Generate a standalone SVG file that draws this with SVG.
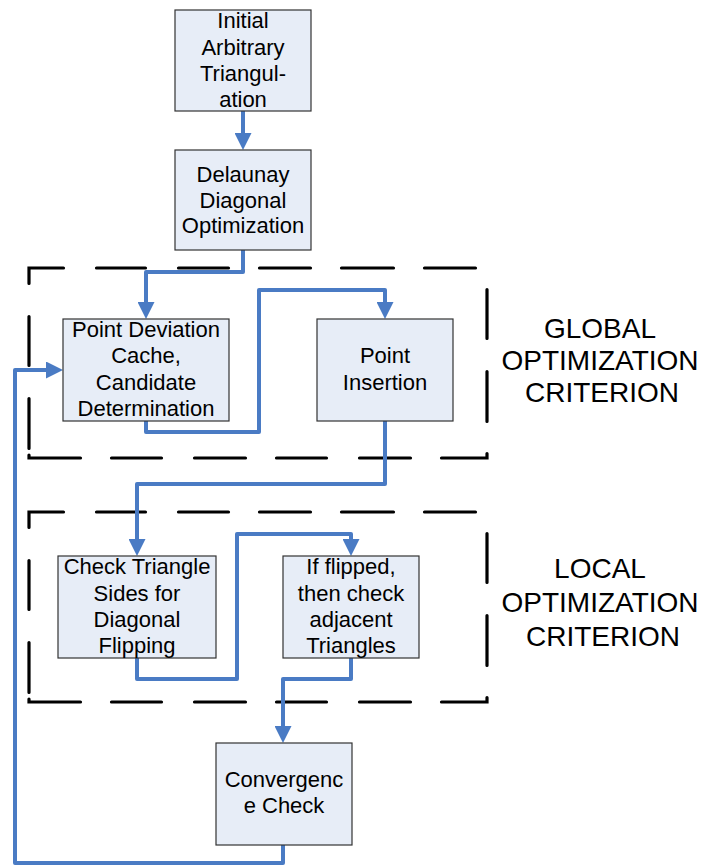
<svg xmlns="http://www.w3.org/2000/svg" width="706" height="866" viewBox="0 0 706 866">
<style>
.box{fill:#E7EDF7;stroke:#333333;stroke-width:1.2}
.t{font-family:"Liberation Sans",Arial,sans-serif;font-size:22px;fill:#000;text-anchor:middle}
.lbl{font-family:"Liberation Sans",Arial,sans-serif;font-size:28px;fill:#000;text-anchor:middle}
.con{fill:none;stroke:#4A7BC4;stroke-width:4;stroke-linejoin:round;marker-end:url(#ah)}
.dash{fill:none;stroke:#000;stroke-width:3.2;stroke-linecap:round;stroke-linejoin:miter}
</style>
<defs>
<marker id="ah" markerUnits="userSpaceOnUse" viewBox="0 0 17 17" refX="1" refY="8.5" markerWidth="17" markerHeight="17" orient="auto">
<path d="M0,0 L17,8.5 L0,17 Z" fill="#4A7BC4"/>
</marker>
<path id="frame" class="dash" d="M29,283.5 V268 H63.5 M96.5,268 H145.5 M178.5,268 H228.5 M259.5,268 H310.5 M341.5,268 H393.5 M424.5,268 H475.5 M487,289.5 V338.5 M487,371.5 V421.5 M487,453.5 V458 H441.5 M410.5,458 H359.5 M326.5,458 H276.5 M245.5,458 H194.5 M161.5,458 H111.5 M80.5,458 H29 V455 M29,448.5 V398.5 M29,365.5 V316.5"/>
</defs>
<rect width="706" height="866" fill="#fff"/>
<g id="regions">
<use href="#frame"/>
<use href="#frame" transform="translate(0,244)"/>
<g id="global-label">
<text class="lbl" x="600" y="338">GLOBAL</text>
<text class="lbl" x="600" y="370">OPTIMIZATION</text>
<text class="lbl" x="602" y="402">CRITERION</text>
</g>
<g id="local-label">
<text class="lbl" x="600" y="578">LOCAL</text>
<text class="lbl" x="600" y="612">OPTIMIZATION</text>
<text class="lbl" x="603" y="646">CRITERION</text>
</g>
</g>
<g id="connectors">
<path class="con" d="M243,105 V134"/>
<path class="con" d="M243,250 V272 H146 V303"/>
<path class="con" d="M146,418 V432 H259 V290 H385 V303"/>
<path class="con" d="M385,421 V484 H137 V540"/>
<path class="con" d="M137,658 V679 H237 V534 H351 V540"/>
<path class="con" d="M351,658 V679 H283 V727"/>
<path class="con" d="M283,845 V863 H15 V370 H47"/>
</g>
<g id="n1">
<rect class="box" x="175" y="10" width="136" height="101"/>
<text class="t" x="243" y="28">Initial</text>
<text class="t" x="243" y="54.5">Arbitrary</text>
<text class="t" x="243" y="80.5">Triangul-</text>
<text class="t" x="243" y="107">ation</text>
</g>
<g id="n2">
<rect class="box" x="175" y="150" width="136" height="100"/>
<text class="t" x="243" y="182">Delaunay</text>
<text class="t" x="243" y="207.5">Diagonal</text>
<text class="t" x="243" y="233">Optimization</text>
</g>
<g id="n3">
<rect class="box" x="63" y="319" width="166" height="102"/>
<text class="t" x="146" y="337">Point Deviation</text>
<text class="t" x="146" y="363">Cache,</text>
<text class="t" x="146" y="390">Candidate</text>
<text class="t" x="146" y="416">Determination</text>
</g>
<g id="n4">
<rect class="box" x="317" y="319" width="136" height="102"/>
<text class="t" x="385" y="363">Point</text>
<text class="t" x="385" y="390">Insertion</text>
</g>
<g id="n5">
<rect class="box" x="58" y="556" width="158" height="102"/>
<text class="t" x="137" y="574">Check Triangle</text>
<text class="t" x="137" y="600.5">Sides for</text>
<text class="t" x="137" y="627">Diagonal</text>
<text class="t" x="137" y="653">Flipping</text>
</g>
<g id="n6">
<rect class="box" x="283" y="556" width="136" height="102"/>
<text class="t" x="351" y="574">If flipped,</text>
<text class="t" x="351" y="600.5">then check</text>
<text class="t" x="351" y="627">adjacent</text>
<text class="t" x="351" y="653">Triangles</text>
</g>
<g id="n7">
<rect class="box" x="216" y="743" width="136" height="102"/>
<text class="t" x="284" y="787">Convergenc</text>
<text class="t" x="284" y="813">e Check</text>
</g>
</svg>
